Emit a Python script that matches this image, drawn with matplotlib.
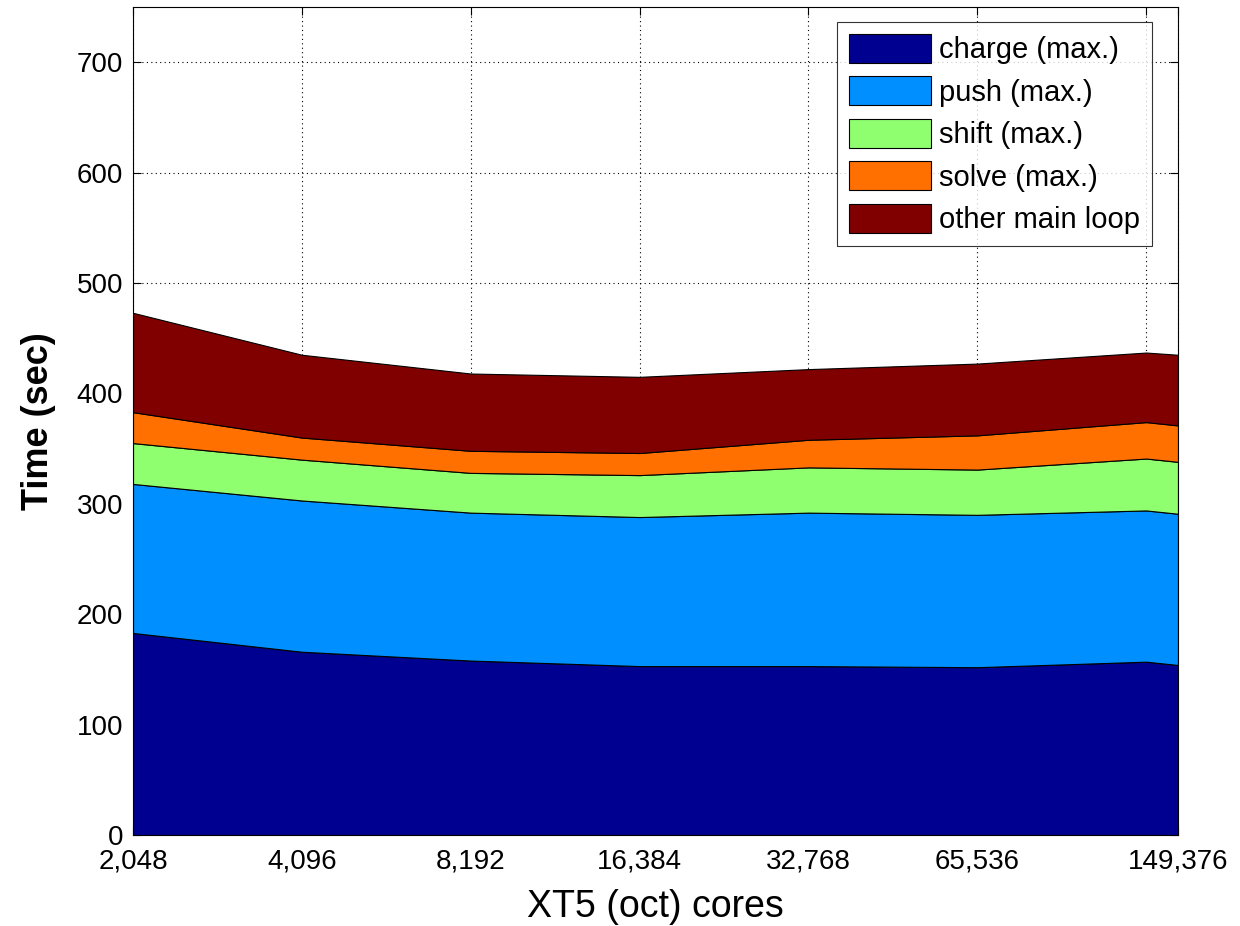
import matplotlib
matplotlib.use("Agg")
import matplotlib.pyplot as plt
import numpy as np

cores = [2048, 4096, 8192, 16384, 32768, 65536, 131072, 149376]
tick_values = [2048, 4096, 8192, 16384, 32768, 65536, 131072, 149376]
tick_labels = ["2,048", "4,096", "8,192", "16,384", "32,768", "65,536", "", "149,376"]

charge = [183, 166, 158, 153, 153, 152, 157, 154]
push = [135, 137, 134, 135, 139, 138, 137, 137]
shift = [37, 37, 36, 38, 41, 41, 47, 47]
solve = [28, 20, 20, 20, 25, 31, 33, 33]
other = [90, 75, 70, 69, 64, 65, 63, 64]

labels = ["charge (max.)", "push (max.)", "shift (max.)", "solve (max.)", "other main loop"]
colors = ["#000090", "#008FFF", "#8FFF70", "#FF7000", "#800000"]

plt.rcParams['font.family'] = ['Liberation Sans', 'DejaVu Sans']

fig = plt.figure(figsize=(12.4, 9.26), dpi=100)
ax = fig.add_axes([133/1240, 1-835/926, (1178-133)/1240, (835-7)/926])

polys = ax.stackplot(cores, charge, push, shift, solve, other, colors=colors,
                     labels=labels, edgecolor="black", linewidth=0.8, zorder=2)

ax.set_xscale("log", base=2)
ax.set_xlim(2048, 149376)
ax.set_ylim(0, 750)
ax.set_xticks(tick_values)
ax.set_xticklabels(tick_labels)
ax.xaxis.set_minor_locator(matplotlib.ticker.NullLocator())
ax.set_yticks(np.arange(0, 701, 100))

ax.grid(True, linestyle=(0, (1, 3)), color="black", linewidth=0.8)
for gl in ax.get_xgridlines() + ax.get_ygridlines():
    gl.set_zorder(3)

ax.tick_params(direction="in", top=True, right=True, length=6, labelsize=20, width=0.8)
ax.tick_params(axis="x", pad=10)
ax.tick_params(axis="y", pad=7)
for s in ax.spines.values():
    s.set_linewidth(0.8)
    s.set_zorder(4)

ax.set_xlabel("XT5 (oct) cores", fontsize=27, labelpad=10)
ax.set_ylabel("Time (sec)", fontsize=26, fontweight="bold", labelpad=15)

leg = ax.legend(loc="upper right", bbox_to_anchor=(1 - 26/1045, 1 - 15/828),
                borderaxespad=0, fontsize=21, frameon=True, fancybox=False,
                edgecolor="black", handlelength=2.8, handleheight=1.15,
                handletextpad=0.3, labelspacing=0.42, borderpad=0.4)
leg.get_frame().set_linewidth(0.8)
leg.set_zorder(5)

fig.savefig("out.png", dpi=100)
